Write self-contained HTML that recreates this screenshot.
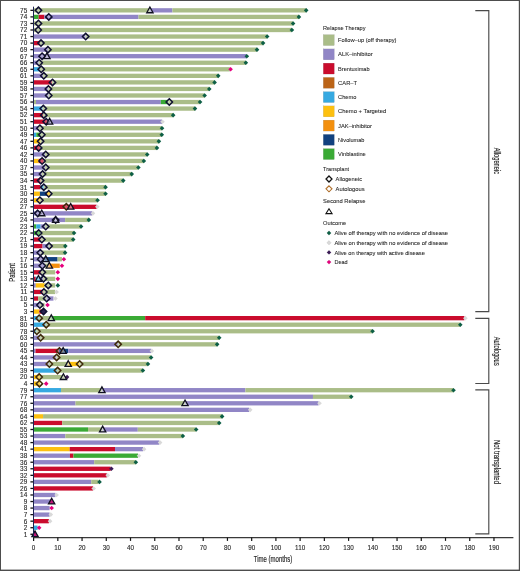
<!DOCTYPE html>
<html lang="en">
<head>
<meta charset="utf-8">
<title>Swimmer plot: relapse therapy by patient</title>
<style>
html,body{margin:0;padding:0;background:#fff;}
body{width:520px;height:571px;overflow:hidden;font-family:"Liberation Sans",sans-serif;}
svg{display:block;will-change:transform;}
</style>
</head>
<body>
<svg width="520" height="571" viewBox="0 0 520 571" font-family="Liberation Sans, sans-serif" shape-rendering="geometricPrecision">
<rect x="0" y="0" width="520" height="571" fill="#fff"/>
<g id="bars">
<rect x="33.6" y="8.2" width="116.3" height="4.3" fill="#aabd88"/>
<rect x="149.9" y="8.2" width="22.53" height="4.3" fill="#9186c6"/>
<rect x="172.44" y="8.2" width="133.75" height="4.3" fill="#aabd88"/>
<rect x="33.6" y="14.75" width="5.09" height="4.3" fill="#3aaa35"/>
<rect x="38.69" y="14.75" width="5.69" height="4.3" fill="#ca0c2d"/>
<rect x="44.38" y="14.75" width="94.13" height="4.3" fill="#9186c6"/>
<rect x="138.52" y="14.75" width="160.4" height="4.3" fill="#aabd88"/>
<rect x="33.6" y="21.3" width="259.5" height="4.3" fill="#aabd88"/>
<rect x="33.6" y="27.85" width="258.29" height="4.3" fill="#aabd88"/>
<rect x="33.6" y="34.4" width="52.09" height="4.3" fill="#9186c6"/>
<rect x="85.69" y="34.4" width="181.48" height="4.3" fill="#aabd88"/>
<rect x="33.6" y="40.95" width="6.3" height="4.3" fill="#ca0c2d"/>
<rect x="39.9" y="40.95" width="223.16" height="4.3" fill="#aabd88"/>
<rect x="33.6" y="47.49" width="14.54" height="4.3" fill="#9186c6"/>
<rect x="48.14" y="47.49" width="208.86" height="4.3" fill="#aabd88"/>
<rect x="33.6" y="54.04" width="213.22" height="4.3" fill="#9186c6"/>
<rect x="33.6" y="60.59" width="5.09" height="4.3" fill="#9186c6"/>
<rect x="38.69" y="60.59" width="207.17" height="4.3" fill="#aabd88"/>
<rect x="33.6" y="67.14" width="6.3" height="4.3" fill="#36a9e1"/>
<rect x="39.9" y="67.14" width="189.96" height="4.3" fill="#aabd88"/>
<rect x="33.6" y="73.69" width="9.45" height="4.3" fill="#9186c6"/>
<rect x="43.05" y="73.69" width="175.18" height="4.3" fill="#aabd88"/>
<rect x="33.6" y="80.24" width="18.29" height="4.3" fill="#ca0c2d"/>
<rect x="51.89" y="80.24" width="162.7" height="4.3" fill="#aabd88"/>
<rect x="33.6" y="86.79" width="14.54" height="4.3" fill="#9186c6"/>
<rect x="48.14" y="86.79" width="161.13" height="4.3" fill="#aabd88"/>
<rect x="33.6" y="93.34" width="15.02" height="4.3" fill="#9186c6"/>
<rect x="48.62" y="93.34" width="156.04" height="4.3" fill="#aabd88"/>
<rect x="33.6" y="99.89" width="2.42" height="4.3" fill="#aabd88"/>
<rect x="36.02" y="99.89" width="124.78" height="4.3" fill="#9186c6"/>
<rect x="160.81" y="99.89" width="7.51" height="4.3" fill="#3aaa35"/>
<rect x="168.32" y="99.89" width="31.74" height="4.3" fill="#aabd88"/>
<rect x="33.6" y="106.43" width="8.97" height="4.3" fill="#36a9e1"/>
<rect x="42.57" y="106.43" width="152.41" height="4.3" fill="#aabd88"/>
<rect x="33.6" y="112.98" width="9.45" height="4.3" fill="#ca0c2d"/>
<rect x="43.05" y="112.98" width="130.12" height="4.3" fill="#aabd88"/>
<rect x="33.6" y="119.53" width="13.33" height="4.3" fill="#ca0c2d"/>
<rect x="46.93" y="119.53" width="115.09" height="4.3" fill="#9186c6"/>
<rect x="33.6" y="126.08" width="5.09" height="4.3" fill="#9186c6"/>
<rect x="38.69" y="126.08" width="123.33" height="4.3" fill="#aabd88"/>
<rect x="33.6" y="132.63" width="2.67" height="4.3" fill="#36a9e1"/>
<rect x="36.27" y="132.63" width="4.36" height="4.3" fill="#3aaa35"/>
<rect x="40.63" y="132.63" width="121.15" height="4.3" fill="#aabd88"/>
<rect x="33.6" y="139.18" width="7.03" height="4.3" fill="#fdc010"/>
<rect x="40.63" y="139.18" width="118.24" height="4.3" fill="#aabd88"/>
<rect x="33.6" y="145.73" width="6.3" height="4.3" fill="#ca0c2d"/>
<rect x="39.9" y="145.73" width="117.03" height="4.3" fill="#aabd88"/>
<rect x="33.6" y="152.28" width="11.39" height="4.3" fill="#9186c6"/>
<rect x="44.99" y="152.28" width="102.25" height="4.3" fill="#aabd88"/>
<rect x="33.6" y="158.83" width="5.09" height="4.3" fill="#fdc010"/>
<rect x="38.69" y="158.83" width="5.09" height="4.3" fill="#ca0c2d"/>
<rect x="43.78" y="158.83" width="100.07" height="4.3" fill="#aabd88"/>
<rect x="33.6" y="165.38" width="11.39" height="4.3" fill="#9186c6"/>
<rect x="44.99" y="165.38" width="93.41" height="4.3" fill="#aabd88"/>
<rect x="33.6" y="171.93" width="8.24" height="4.3" fill="#9186c6"/>
<rect x="41.84" y="171.93" width="89.89" height="4.3" fill="#aabd88"/>
<rect x="33.6" y="178.47" width="7.03" height="4.3" fill="#ca0c2d"/>
<rect x="40.63" y="178.47" width="82.62" height="4.3" fill="#aabd88"/>
<rect x="33.6" y="185.02" width="7.03" height="4.3" fill="#ca0c2d"/>
<rect x="40.63" y="185.02" width="3.15" height="4.3" fill="#36a9e1"/>
<rect x="43.78" y="185.02" width="61.79" height="4.3" fill="#aabd88"/>
<rect x="33.6" y="191.57" width="6.3" height="4.3" fill="#fdc010"/>
<rect x="39.9" y="191.57" width="7.03" height="4.3" fill="#11417f"/>
<rect x="46.93" y="191.57" width="3.39" height="4.3" fill="#fdc010"/>
<rect x="50.32" y="191.57" width="55.24" height="4.3" fill="#aabd88"/>
<rect x="33.6" y="198.12" width="6.3" height="4.3" fill="#fdc010"/>
<rect x="39.9" y="198.12" width="57.67" height="4.3" fill="#aabd88"/>
<rect x="33.6" y="204.67" width="63" height="4.3" fill="#ca0c2d"/>
<rect x="33.6" y="211.22" width="58.64" height="4.3" fill="#9186c6"/>
<rect x="33.6" y="217.77" width="31.5" height="4.3" fill="#9186c6"/>
<rect x="65.1" y="217.77" width="23.75" height="4.3" fill="#aabd88"/>
<rect x="33.6" y="224.32" width="2.67" height="4.3" fill="#3aaa35"/>
<rect x="36.27" y="224.32" width="4.36" height="4.3" fill="#36a9e1"/>
<rect x="40.63" y="224.32" width="4.36" height="4.3" fill="#9186c6"/>
<rect x="44.99" y="224.32" width="36.1" height="4.3" fill="#aabd88"/>
<rect x="33.6" y="230.87" width="7.03" height="4.3" fill="#3aaa35"/>
<rect x="40.63" y="230.87" width="33.44" height="4.3" fill="#aabd88"/>
<rect x="33.6" y="237.41" width="7.03" height="4.3" fill="#ca0c2d"/>
<rect x="40.63" y="237.41" width="32.59" height="4.3" fill="#aabd88"/>
<rect x="33.6" y="243.96" width="8.97" height="4.3" fill="#ca0c2d"/>
<rect x="42.57" y="243.96" width="6.18" height="4.3" fill="#9186c6"/>
<rect x="48.74" y="243.96" width="16.6" height="4.3" fill="#aabd88"/>
<rect x="33.6" y="250.51" width="7.03" height="4.3" fill="#9186c6"/>
<rect x="40.63" y="250.51" width="24.47" height="4.3" fill="#aabd88"/>
<rect x="33.6" y="257.06" width="10.78" height="4.3" fill="#9186c6"/>
<rect x="44.38" y="257.06" width="13.21" height="4.3" fill="#11417f"/>
<rect x="57.59" y="257.06" width="4.36" height="4.3" fill="#aabd88"/>
<rect x="33.6" y="263.61" width="11.15" height="4.3" fill="#9186c6"/>
<rect x="44.75" y="263.61" width="3.39" height="4.3" fill="#aabd88"/>
<rect x="48.14" y="263.61" width="11.63" height="4.3" fill="#f3900f"/>
<rect x="33.6" y="270.16" width="7.27" height="4.3" fill="#ca0c2d"/>
<rect x="40.87" y="270.16" width="14.3" height="4.3" fill="#aabd88"/>
<rect x="33.6" y="276.71" width="2.18" height="4.3" fill="#ca0c2d"/>
<rect x="35.78" y="276.71" width="4.85" height="4.3" fill="#36a9e1"/>
<rect x="40.63" y="276.71" width="2.42" height="4.3" fill="#9186c6"/>
<rect x="43.05" y="276.71" width="12.12" height="4.3" fill="#aabd88"/>
<rect x="33.6" y="283.26" width="2.18" height="4.3" fill="#9186c6"/>
<rect x="35.78" y="283.26" width="8.84" height="4.3" fill="#fdc010"/>
<rect x="44.62" y="283.26" width="10.54" height="4.3" fill="#aabd88"/>
<rect x="33.6" y="289.81" width="9.21" height="4.3" fill="#ca0c2d"/>
<rect x="42.81" y="289.81" width="12.36" height="4.3" fill="#aabd88"/>
<rect x="33.6" y="296.36" width="4.51" height="4.3" fill="#ca0c2d"/>
<rect x="38.11" y="296.36" width="8.58" height="4.3" fill="#aabd88"/>
<rect x="46.68" y="296.36" width="6.78" height="4.3" fill="#9186c6"/>
<rect x="33.6" y="302.91" width="6.3" height="4.3" fill="#9186c6"/>
<rect x="39.9" y="302.91" width="4.6" height="4.3" fill="#aabd88"/>
<rect x="33.6" y="309.45" width="5.82" height="4.3" fill="#fdc010"/>
<rect x="39.42" y="309.45" width="2.67" height="4.3" fill="#ca0c2d"/>
<rect x="33.6" y="316" width="5.09" height="4.3" fill="#36a9e1"/>
<rect x="38.69" y="316" width="12.6" height="4.3" fill="#aabd88"/>
<rect x="51.29" y="316" width="93.89" height="4.3" fill="#3aaa35"/>
<rect x="145.18" y="316" width="319.23" height="4.3" fill="#ca0c2d"/>
<rect x="33.6" y="322.55" width="12.12" height="4.3" fill="#36a9e1"/>
<rect x="45.72" y="322.55" width="414.58" height="4.3" fill="#aabd88"/>
<rect x="33.6" y="329.1" width="2.67" height="4.3" fill="#36a9e1"/>
<rect x="36.27" y="329.1" width="336.31" height="4.3" fill="#aabd88"/>
<rect x="33.6" y="335.65" width="6.3" height="4.3" fill="#9186c6"/>
<rect x="39.9" y="335.65" width="179.3" height="4.3" fill="#aabd88"/>
<rect x="33.6" y="342.2" width="84.56" height="4.3" fill="#9186c6"/>
<rect x="118.16" y="342.2" width="98.98" height="4.3" fill="#aabd88"/>
<rect x="33.6" y="348.75" width="1.94" height="4.3" fill="#9186c6"/>
<rect x="35.54" y="348.75" width="23.26" height="4.3" fill="#ca0c2d"/>
<rect x="58.8" y="348.75" width="9.45" height="4.3" fill="#11417f"/>
<rect x="68.25" y="348.75" width="82.87" height="4.3" fill="#9186c6"/>
<rect x="33.6" y="355.3" width="22.78" height="4.3" fill="#9186c6"/>
<rect x="56.38" y="355.3" width="94.74" height="4.3" fill="#aabd88"/>
<rect x="33.6" y="361.85" width="15.14" height="4.3" fill="#9186c6"/>
<rect x="48.74" y="361.85" width="19.51" height="4.3" fill="#aabd88"/>
<rect x="68.25" y="361.85" width="11.15" height="4.3" fill="#fdc010"/>
<rect x="79.39" y="361.85" width="68.57" height="4.3" fill="#aabd88"/>
<rect x="33.6" y="368.4" width="23.26" height="4.3" fill="#36a9e1"/>
<rect x="56.86" y="368.4" width="86.02" height="4.3" fill="#aabd88"/>
<rect x="33.6" y="374.94" width="6.3" height="4.3" fill="#fdc010"/>
<rect x="39.9" y="374.94" width="24.71" height="4.3" fill="#aabd88"/>
<rect x="33.6" y="381.49" width="6.54" height="4.3" fill="#fdc010"/>
<rect x="33.6" y="388.04" width="27.38" height="4.3" fill="#36a9e1"/>
<rect x="60.98" y="388.04" width="40.95" height="4.3" fill="#aabd88"/>
<rect x="101.93" y="388.04" width="143.44" height="4.3" fill="#9186c6"/>
<rect x="245.37" y="388.04" width="208.14" height="4.3" fill="#aabd88"/>
<rect x="33.6" y="394.59" width="279.37" height="4.3" fill="#9186c6"/>
<rect x="312.97" y="394.59" width="38.28" height="4.3" fill="#aabd88"/>
<rect x="33.6" y="401.14" width="41.92" height="4.3" fill="#9186c6"/>
<rect x="75.52" y="401.14" width="109.52" height="4.3" fill="#aabd88"/>
<rect x="185.04" y="401.14" width="133.51" height="4.3" fill="#9186c6"/>
<rect x="33.6" y="407.69" width="215.65" height="4.3" fill="#9186c6"/>
<rect x="33.6" y="414.24" width="9.45" height="4.3" fill="#fdc010"/>
<rect x="43.05" y="414.24" width="179.06" height="4.3" fill="#aabd88"/>
<rect x="33.6" y="420.79" width="28.59" height="4.3" fill="#ca0c2d"/>
<rect x="62.19" y="420.79" width="157.01" height="4.3" fill="#aabd88"/>
<rect x="33.6" y="427.34" width="54.4" height="4.3" fill="#3aaa35"/>
<rect x="88" y="427.34" width="14.66" height="4.3" fill="#aabd88"/>
<rect x="102.66" y="427.34" width="35.13" height="4.3" fill="#9186c6"/>
<rect x="137.79" y="427.34" width="58.39" height="4.3" fill="#aabd88"/>
<rect x="33.6" y="433.89" width="31.74" height="4.3" fill="#9186c6"/>
<rect x="65.34" y="433.89" width="117.52" height="4.3" fill="#aabd88"/>
<rect x="33.6" y="440.43" width="125.75" height="4.3" fill="#9186c6"/>
<rect x="33.6" y="446.98" width="36.1" height="4.3" fill="#fdc010"/>
<rect x="69.7" y="446.98" width="45.31" height="4.3" fill="#ca0c2d"/>
<rect x="115.01" y="446.98" width="28.11" height="4.3" fill="#9186c6"/>
<rect x="33.6" y="453.53" width="36.34" height="4.3" fill="#9186c6"/>
<rect x="69.94" y="453.53" width="3.51" height="4.3" fill="#ca0c2d"/>
<rect x="73.46" y="453.53" width="64.57" height="4.3" fill="#3aaa35"/>
<rect x="33.6" y="460.08" width="60.58" height="4.3" fill="#9186c6"/>
<rect x="94.18" y="460.08" width="41.68" height="4.3" fill="#aabd88"/>
<rect x="33.6" y="466.63" width="77.05" height="4.3" fill="#ca0c2d"/>
<rect x="33.6" y="473.18" width="73.17" height="4.3" fill="#ca0c2d"/>
<rect x="33.6" y="479.73" width="57.67" height="4.3" fill="#9186c6"/>
<rect x="91.27" y="479.73" width="7.27" height="4.3" fill="#aabd88"/>
<rect x="33.6" y="486.28" width="59.36" height="4.3" fill="#ca0c2d"/>
<rect x="33.6" y="492.83" width="21.81" height="4.3" fill="#9186c6"/>
<rect x="33.6" y="499.38" width="16.96" height="4.3" fill="#9186c6"/>
<rect x="33.6" y="505.92" width="15.99" height="4.3" fill="#9186c6"/>
<rect x="33.6" y="512.47" width="15.99" height="4.3" fill="#9186c6"/>
<rect x="33.6" y="519.02" width="15.26" height="4.3" fill="#ca0c2d"/>
<rect x="33.6" y="525.57" width="4" height="4.3" fill="#36a9e1"/>
<rect x="33.6" y="532.12" width="0.73" height="4.3" fill="#9186c6"/>
</g>
<g id="outcomes">
<path d="M306.19 8.05L308.49 10.35L306.19 12.65L303.89 10.35Z" fill="#0d5f45"/>
<path d="M298.92 14.6L301.22 16.9L298.92 19.2L296.62 16.9Z" fill="#0d5f45"/>
<path d="M293.1 21.15L295.4 23.45L293.1 25.75L290.8 23.45Z" fill="#0d5f45"/>
<path d="M291.89 27.7L294.19 30L291.89 32.3L289.59 30Z" fill="#0d5f45"/>
<path d="M267.18 34.25L269.48 36.55L267.18 38.85L264.88 36.55Z" fill="#0d5f45"/>
<path d="M263.06 40.8L265.36 43.1L263.06 45.4L260.76 43.1Z" fill="#0d5f45"/>
<path d="M257 47.34L259.3 49.64L257 51.94L254.7 49.64Z" fill="#0d5f45"/>
<path d="M246.82 53.89L249.12 56.19L246.82 58.49L244.52 56.19Z" fill="#0d5f45"/>
<path d="M245.85 60.44L248.15 62.74L245.85 65.04L243.55 62.74Z" fill="#0d5f45"/>
<path d="M230.59 66.99L232.89 69.29L230.59 71.59L228.29 69.29Z" fill="#e5007d"/>
<path d="M218.23 73.54L220.53 75.84L218.23 78.14L215.93 75.84Z" fill="#0d5f45"/>
<path d="M214.6 80.09L216.9 82.39L214.6 84.69L212.3 82.39Z" fill="#0d5f45"/>
<path d="M209.27 86.64L211.57 88.94L209.27 91.24L206.97 88.94Z" fill="#0d5f45"/>
<path d="M204.66 93.19L206.96 95.49L204.66 97.79L202.36 95.49Z" fill="#0d5f45"/>
<path d="M200.06 99.74L202.36 102.04L200.06 104.34L197.76 102.04Z" fill="#0d5f45"/>
<path d="M194.97 106.28L197.27 108.58L194.97 110.88L192.67 108.58Z" fill="#0d5f45"/>
<path d="M173.16 112.83L175.46 115.13L173.16 117.43L170.86 115.13Z" fill="#0d5f45"/>
<path d="M162.5 119.38L164.8 121.68L162.5 123.98L160.2 121.68Z" fill="#d9d9d9"/>
<path d="M162.02 125.93L164.32 128.23L162.02 130.53L159.72 128.23Z" fill="#0d5f45"/>
<path d="M161.78 132.48L164.08 134.78L161.78 137.08L159.48 134.78Z" fill="#0d5f45"/>
<path d="M158.87 139.03L161.17 141.33L158.87 143.63L156.57 141.33Z" fill="#0d5f45"/>
<path d="M156.93 145.58L159.23 147.88L156.93 150.18L154.63 147.88Z" fill="#0d5f45"/>
<path d="M147.24 152.13L149.54 154.43L147.24 156.73L144.94 154.43Z" fill="#0d5f45"/>
<path d="M143.85 158.68L146.15 160.98L143.85 163.28L141.55 160.98Z" fill="#0d5f45"/>
<path d="M138.39 165.23L140.69 167.53L138.39 169.83L136.09 167.53Z" fill="#0d5f45"/>
<path d="M131.73 171.78L134.03 174.08L131.73 176.38L129.43 174.08Z" fill="#0d5f45"/>
<path d="M123.25 178.32L125.55 180.62L123.25 182.92L120.95 180.62Z" fill="#0d5f45"/>
<path d="M105.56 184.87L107.86 187.17L105.56 189.47L103.26 187.17Z" fill="#0d5f45"/>
<path d="M105.56 191.42L107.86 193.72L105.56 196.02L103.26 193.72Z" fill="#0d5f45"/>
<path d="M97.57 197.97L99.87 200.27L97.57 202.57L95.27 200.27Z" fill="#0d5f45"/>
<path d="M97.32 204.52L99.62 206.82L97.32 209.12L95.02 206.82Z" fill="#d9d9d9"/>
<path d="M92.96 211.07L95.26 213.37L92.96 215.67L90.66 213.37Z" fill="#d9d9d9"/>
<path d="M88.84 217.62L91.14 219.92L88.84 222.22L86.54 219.92Z" fill="#0d5f45"/>
<path d="M81.09 224.17L83.39 226.47L81.09 228.77L78.79 226.47Z" fill="#0d5f45"/>
<path d="M74.06 230.72L76.36 233.02L74.06 235.32L71.76 233.02Z" fill="#0d5f45"/>
<path d="M73.22 237.26L75.52 239.56L73.22 241.87L70.92 239.56Z" fill="#0d5f45"/>
<path d="M65.34 243.81L67.64 246.11L65.34 248.41L63.04 246.11Z" fill="#0d5f45"/>
<path d="M65.1 250.36L67.4 252.66L65.1 254.96L62.8 252.66Z" fill="#0d5f45"/>
<path d="M63.89 256.91L66.19 259.21L63.89 261.51L61.59 259.21Z" fill="#e5007d"/>
<path d="M61.95 263.46L64.25 265.76L61.95 268.06L59.65 265.76Z" fill="#e5007d"/>
<path d="M57.83 270.01L60.13 272.31L57.83 274.61L55.53 272.31Z" fill="#e5007d"/>
<path d="M57.83 276.56L60.13 278.86L57.83 281.16L55.53 278.86Z" fill="#e5007d"/>
<path d="M57.83 283.11L60.13 285.41L57.83 287.71L55.53 285.41Z" fill="#0d5f45"/>
<path d="M56.62 289.66L58.92 291.96L56.62 294.26L54.32 291.96Z" fill="#d9d9d9"/>
<path d="M55.41 296.21L57.71 298.51L55.41 300.81L53.11 298.51Z" fill="#d9d9d9"/>
<path d="M47.53 302.76L49.83 305.06L47.53 307.36L45.23 305.06Z" fill="#e5007d"/>
<path d="M465.38 315.85L467.68 318.15L465.38 320.45L463.08 318.15Z" fill="#d9d9d9"/>
<path d="M460.29 322.4L462.59 324.7L460.29 327L457.99 324.7Z" fill="#0d5f45"/>
<path d="M372.58 328.95L374.88 331.25L372.58 333.55L370.28 331.25Z" fill="#0d5f45"/>
<path d="M219.2 335.5L221.5 337.8L219.2 340.1L216.9 337.8Z" fill="#0d5f45"/>
<path d="M217.14 342.05L219.44 344.35L217.14 346.65L214.84 344.35Z" fill="#0d5f45"/>
<path d="M151.84 348.6L154.14 350.9L151.84 353.2L149.54 350.9Z" fill="#d9d9d9"/>
<path d="M151.12 355.15L153.42 357.45L151.12 359.75L148.82 357.45Z" fill="#0d5f45"/>
<path d="M147.97 361.7L150.27 364L147.97 366.3L145.67 364Z" fill="#0d5f45"/>
<path d="M142.88 368.25L145.18 370.55L142.88 372.85L140.58 370.55Z" fill="#0d5f45"/>
<path d="M67.04 374.79L69.34 377.09L67.04 379.39L64.74 377.09Z" fill="#3a1a55"/>
<path d="M46.2 381.34L48.5 383.64L46.2 385.94L43.9 383.64Z" fill="#e5007d"/>
<path d="M453.51 387.89L455.81 390.19L453.51 392.49L451.21 390.19Z" fill="#0d5f45"/>
<path d="M351.26 394.44L353.56 396.74L351.26 399.04L348.96 396.74Z" fill="#0d5f45"/>
<path d="M319.51 400.99L321.81 403.29L319.51 405.59L317.21 403.29Z" fill="#d9d9d9"/>
<path d="M250.22 407.54L252.52 409.84L250.22 412.14L247.92 409.84Z" fill="#d9d9d9"/>
<path d="M222.11 414.09L224.41 416.39L222.11 418.69L219.81 416.39Z" fill="#0d5f45"/>
<path d="M219.2 420.64L221.5 422.94L219.2 425.24L216.9 422.94Z" fill="#0d5f45"/>
<path d="M196.18 427.19L198.48 429.49L196.18 431.79L193.88 429.49Z" fill="#0d5f45"/>
<path d="M182.86 433.74L185.16 436.04L182.86 438.34L180.56 436.04Z" fill="#0d5f45"/>
<path d="M160.08 440.28L162.38 442.58L160.08 444.88L157.78 442.58Z" fill="#d9d9d9"/>
<path d="M144.09 446.83L146.39 449.13L144.09 451.43L141.79 449.13Z" fill="#d9d9d9"/>
<path d="M139 453.38L141.3 455.68L139 457.98L136.7 455.68Z" fill="#d9d9d9"/>
<path d="M135.85 459.93L138.15 462.23L135.85 464.53L133.55 462.23Z" fill="#0d5f45"/>
<path d="M111.38 466.48L113.68 468.78L111.38 471.08L109.08 468.78Z" fill="#3a1a55"/>
<path d="M107.74 473.03L110.04 475.33L107.74 477.63L105.44 475.33Z" fill="#d9d9d9"/>
<path d="M99.51 479.58L101.81 481.88L99.51 484.18L97.21 481.88Z" fill="#0d5f45"/>
<path d="M93.69 486.13L95.99 488.43L93.69 490.73L91.39 488.43Z" fill="#d9d9d9"/>
<path d="M56.62 492.68L58.92 494.98L56.62 497.28L54.32 494.98Z" fill="#d9d9d9"/>
<path d="M51.65 505.77L53.95 508.07L51.65 510.37L49.35 508.07Z" fill="#e5007d"/>
<path d="M50.8 512.32L53.1 514.62L50.8 516.92L48.5 514.62Z" fill="#d9d9d9"/>
<path d="M50.08 518.87L52.38 521.17L50.08 523.47L47.78 521.17Z" fill="#d9d9d9"/>
<path d="M39.17 525.42L41.47 527.72L39.17 530.02L36.87 527.72Z" fill="#e5007d"/>
</g>
<g id="marks" stroke-linejoin="miter">
<path d="M38.45 7.15L41.65 10.35L38.45 13.55L35.25 10.35Z" fill="rgba(255,255,255,0.28)" stroke="#101030" stroke-width="1.5"/>
<path d="M149.9 7.04L153.05 12.74L146.75 12.74Z" fill="rgba(255,255,255,0.42)" stroke="#101020" stroke-width="1.3"/>
<path d="M48.77 13.7L51.97 16.9L48.77 20.1L45.57 16.9Z" fill="rgba(255,255,255,0.28)" stroke="#101030" stroke-width="1.5"/>
<path d="M38.45 20.25L41.65 23.45L38.45 26.65L35.25 23.45Z" fill="rgba(255,255,255,0.28)" stroke="#101030" stroke-width="1.5"/>
<path d="M38.2 26.8L41.4 30L38.2 33.2L35 30Z" fill="rgba(255,255,255,0.28)" stroke="#101030" stroke-width="1.5"/>
<path d="M85.69 33.35L88.89 36.55L85.69 39.75L82.49 36.55Z" fill="rgba(255,255,255,0.28)" stroke="#101030" stroke-width="1.5"/>
<path d="M40.99 39.9L44.19 43.1L40.99 46.3L37.79 43.1Z" fill="rgba(255,255,255,0.28)" stroke="#101030" stroke-width="1.5"/>
<path d="M47.9 46.44L51.1 49.64L47.9 52.84L44.7 49.64Z" fill="rgba(255,255,255,0.28)" stroke="#101030" stroke-width="1.5"/>
<path d="M42.08 52.99L45.28 56.19L42.08 59.39L38.88 56.19Z" fill="rgba(255,255,255,0.28)" stroke="#101030" stroke-width="1.5"/>
<path d="M46.93 52.89L50.08 58.59L43.78 58.59Z" fill="rgba(255,255,255,0.42)" stroke="#101020" stroke-width="1.3"/>
<path d="M39.17 59.54L42.37 62.74L39.17 65.94L35.97 62.74Z" fill="rgba(255,255,255,0.28)" stroke="#101030" stroke-width="1.5"/>
<path d="M41.23 66.09L44.43 69.29L41.23 72.49L38.03 69.29Z" fill="rgba(255,255,255,0.28)" stroke="#101030" stroke-width="1.5"/>
<path d="M43.78 72.64L46.98 75.84L43.78 79.04L40.58 75.84Z" fill="rgba(255,255,255,0.28)" stroke="#101030" stroke-width="1.5"/>
<path d="M52.5 79.19L55.7 82.39L52.5 85.59L49.3 82.39Z" fill="rgba(255,255,255,0.28)" stroke="#101030" stroke-width="1.5"/>
<path d="M48.38 85.74L51.58 88.94L48.38 92.14L45.18 88.94Z" fill="rgba(255,255,255,0.28)" stroke="#101030" stroke-width="1.5"/>
<path d="M48.74 92.29L51.94 95.49L48.74 98.69L45.54 95.49Z" fill="rgba(255,255,255,0.28)" stroke="#101030" stroke-width="1.5"/>
<path d="M169.29 98.84L172.49 102.04L169.29 105.24L166.09 102.04Z" fill="rgba(255,255,255,0.28)" stroke="#101030" stroke-width="1.5"/>
<path d="M43.29 105.38L46.49 108.58L43.29 111.78L40.09 108.58Z" fill="rgba(255,255,255,0.28)" stroke="#101030" stroke-width="1.5"/>
<path d="M43.78 111.93L46.98 115.13L43.78 118.33L40.58 115.13Z" fill="rgba(255,255,255,0.28)" stroke="#101030" stroke-width="1.5"/>
<path d="M46.2 118.48L49.4 121.68L46.2 124.88L43 121.68Z" fill="rgba(255,255,255,0.28)" stroke="#101030" stroke-width="1.5"/>
<path d="M49.59 118.38L52.74 124.08L46.44 124.08Z" fill="rgba(255,255,255,0.42)" stroke="#101020" stroke-width="1.3"/>
<path d="M39.9 125.03L43.1 128.23L39.9 131.43L36.7 128.23Z" fill="rgba(255,255,255,0.28)" stroke="#101030" stroke-width="1.5"/>
<path d="M41.84 131.58L45.04 134.78L41.84 137.98L38.64 134.78Z" fill="rgba(255,255,255,0.28)" stroke="#101030" stroke-width="1.5"/>
<path d="M40.63 138.13L43.83 141.33L40.63 144.53L37.43 141.33Z" fill="rgba(255,255,255,0.28)" stroke="#101030" stroke-width="1.5"/>
<path d="M38.69 144.68L41.89 147.88L38.69 151.08L35.49 147.88Z" fill="rgba(255,255,255,0.28)" stroke="#101030" stroke-width="1.5"/>
<path d="M45.72 151.23L48.92 154.43L45.72 157.63L42.52 154.43Z" fill="rgba(255,255,255,0.28)" stroke="#101030" stroke-width="1.5"/>
<path d="M42.08 157.78L45.28 160.98L42.08 164.18L38.88 160.98Z" fill="rgba(255,255,255,0.28)" stroke="#101030" stroke-width="1.5"/>
<path d="M45.72 164.33L48.92 167.53L45.72 170.73L42.52 167.53Z" fill="rgba(255,255,255,0.28)" stroke="#101030" stroke-width="1.5"/>
<path d="M42.57 170.88L45.77 174.08L42.57 177.28L39.37 174.08Z" fill="rgba(255,255,255,0.28)" stroke="#101030" stroke-width="1.5"/>
<path d="M40.63 177.42L43.83 180.62L40.63 183.82L37.43 180.62Z" fill="rgba(255,255,255,0.28)" stroke="#101030" stroke-width="1.5"/>
<path d="M43.78 183.97L46.98 187.17L43.78 190.37L40.58 187.17Z" fill="rgba(255,255,255,0.28)" stroke="#101030" stroke-width="1.5"/>
<path d="M48.74 190.52L51.94 193.72L48.74 196.92L45.54 193.72Z" fill="rgba(255,255,255,0.28)" stroke="#101030" stroke-width="1.5"/>
<path d="M39.9 197.07L43.1 200.27L39.9 203.47L36.7 200.27Z" fill="rgba(255,255,255,0.28)" stroke="#101030" stroke-width="1.5"/>
<path d="M66.31 203.62L69.51 206.82L66.31 210.02L63.11 206.82Z" fill="rgba(255,255,255,0.28)" stroke="#3f2a0c" stroke-width="1.5"/>
<path d="M70.67 203.51L73.82 209.21L67.52 209.21Z" fill="rgba(255,255,255,0.42)" stroke="#101020" stroke-width="1.3"/>
<path d="M37.72 210.17L40.92 213.37L37.72 216.57L34.52 213.37Z" fill="rgba(255,255,255,0.28)" stroke="#101030" stroke-width="1.5"/>
<path d="M41.72 210.06L44.87 215.76L38.57 215.76Z" fill="rgba(255,255,255,0.42)" stroke="#101020" stroke-width="1.3"/>
<path d="M55.65 216.72L58.85 219.92L55.65 223.12L52.45 219.92Z" fill="rgba(255,255,255,0.28)" stroke="#101030" stroke-width="1.5"/>
<path d="M55.65 216.61L58.8 222.31L52.5 222.31Z" fill="rgba(255,255,255,0.42)" stroke="#101020" stroke-width="1.3"/>
<path d="M45.72 223.27L48.92 226.47L45.72 229.67L42.52 226.47Z" fill="rgba(255,255,255,0.28)" stroke="#101030" stroke-width="1.5"/>
<path d="M38.69 229.82L41.89 233.02L38.69 236.22L35.49 233.02Z" fill="rgba(255,255,255,0.28)" stroke="#101030" stroke-width="1.5"/>
<path d="M41.84 236.37L45.04 239.56L41.84 242.76L38.64 239.56Z" fill="rgba(255,255,255,0.28)" stroke="#101030" stroke-width="1.5"/>
<path d="M49.11 242.91L52.31 246.11L49.11 249.31L45.91 246.11Z" fill="rgba(255,255,255,0.28)" stroke="#101030" stroke-width="1.5"/>
<path d="M40.26 249.46L43.46 252.66L40.26 255.86L37.06 252.66Z" fill="rgba(255,255,255,0.28)" stroke="#101030" stroke-width="1.5"/>
<path d="M40.63 256.01L43.83 259.21L40.63 262.41L37.43 259.21Z" fill="rgba(255,255,255,0.28)" stroke="#101030" stroke-width="1.5"/>
<path d="M45.72 255.91L48.87 261.61L42.57 261.61Z" fill="rgba(255,255,255,0.42)" stroke="#101020" stroke-width="1.3"/>
<path d="M42.32 262.56L45.52 265.76L42.32 268.96L39.12 265.76Z" fill="rgba(255,255,255,0.28)" stroke="#101030" stroke-width="1.5"/>
<path d="M49.35 262.46L52.5 268.16L46.2 268.16Z" fill="rgba(255,255,255,0.42)" stroke="#101020" stroke-width="1.3"/>
<path d="M42.32 269.11L45.52 272.31L42.32 275.51L39.12 272.31Z" fill="rgba(255,255,255,0.28)" stroke="#101030" stroke-width="1.5"/>
<path d="M38.45 275.55L41.6 281.25L35.3 281.25Z" fill="rgba(255,255,255,0.42)" stroke="#101020" stroke-width="1.3"/>
<path d="M43.53 275.66L46.73 278.86L43.53 282.06L40.33 278.86Z" fill="rgba(255,255,255,0.28)" stroke="#101030" stroke-width="1.5"/>
<path d="M48.28 282.21L51.48 285.41L48.28 288.61L45.08 285.41Z" fill="rgba(255,255,255,0.28)" stroke="#101030" stroke-width="1.5"/>
<path d="M43.9 288.76L47.1 291.96L43.9 295.16L40.7 291.96Z" fill="rgba(255,255,255,0.28)" stroke="#101030" stroke-width="1.5"/>
<path d="M46.68 295.31L49.88 298.51L46.68 301.71L43.48 298.51Z" fill="rgba(255,255,255,0.28)" stroke="#101030" stroke-width="1.5"/>
<path d="M39.9 301.86L43.1 305.06L39.9 308.26L36.7 305.06Z" fill="rgba(255,255,255,0.28)" stroke="#101030" stroke-width="1.5"/>
<path d="M43.53 308.4L46.73 311.6L43.53 314.8L40.33 311.6Z" fill="#2c2452" stroke="#101030" stroke-width="1.5"/>
<path d="M39.17 314.95L42.37 318.15L39.17 321.35L35.97 318.15Z" fill="rgba(255,255,255,0.28)" stroke="#3f2a0c" stroke-width="1.5"/>
<path d="M51.29 314.85L54.44 320.55L48.14 320.55Z" fill="rgba(255,255,255,0.42)" stroke="#101020" stroke-width="1.3"/>
<path d="M46.2 321.5L49.4 324.7L46.2 327.9L43 324.7Z" fill="rgba(255,255,255,0.28)" stroke="#3f2a0c" stroke-width="1.5"/>
<path d="M36.87 328.05L40.07 331.25L36.87 334.45L33.67 331.25Z" fill="rgba(255,255,255,0.28)" stroke="#3f2a0c" stroke-width="1.5"/>
<path d="M40.63 334.6L43.83 337.8L40.63 341L37.43 337.8Z" fill="rgba(255,255,255,0.28)" stroke="#3f2a0c" stroke-width="1.5"/>
<path d="M118.16 341.15L121.36 344.35L118.16 347.55L114.96 344.35Z" fill="rgba(255,255,255,0.28)" stroke="#3f2a0c" stroke-width="1.5"/>
<path d="M59.4 347.7L62.6 350.9L59.4 354.1L56.2 350.9Z" fill="rgba(255,255,255,0.28)" stroke="#3f2a0c" stroke-width="1.5"/>
<path d="M63.16 347.59L66.31 353.29L60.01 353.29Z" fill="rgba(255,255,255,0.42)" stroke="#101020" stroke-width="1.3"/>
<path d="M56.62 354.25L59.82 357.45L56.62 360.65L53.42 357.45Z" fill="rgba(255,255,255,0.28)" stroke="#3f2a0c" stroke-width="1.5"/>
<path d="M49.35 360.8L52.55 364L49.35 367.2L46.15 364Z" fill="rgba(255,255,255,0.28)" stroke="#3f2a0c" stroke-width="1.5"/>
<path d="M68.25 360.69L71.4 366.39L65.1 366.39Z" fill="rgba(255,255,255,0.42)" stroke="#101020" stroke-width="1.3"/>
<path d="M79.64 360.8L82.84 364L79.64 367.2L76.44 364Z" fill="rgba(255,255,255,0.28)" stroke="#3f2a0c" stroke-width="1.5"/>
<path d="M57.59 367.35L60.79 370.55L57.59 373.75L54.39 370.55Z" fill="rgba(255,255,255,0.28)" stroke="#3f2a0c" stroke-width="1.5"/>
<path d="M39.17 373.89L42.37 377.09L39.17 380.29L35.97 377.09Z" fill="rgba(255,255,255,0.28)" stroke="#3f2a0c" stroke-width="1.5"/>
<path d="M63.4 373.79L66.55 379.49L60.25 379.49Z" fill="rgba(255,255,255,0.42)" stroke="#101020" stroke-width="1.3"/>
<path d="M39.42 380.44L42.62 383.64L39.42 386.84L36.22 383.64Z" fill="rgba(255,255,255,0.28)" stroke="#3f2a0c" stroke-width="1.5"/>
<path d="M101.93 386.89L105.08 392.59L98.78 392.59Z" fill="rgba(255,255,255,0.42)" stroke="#101020" stroke-width="1.3"/>
<path d="M185.04 399.98L188.19 405.68L181.89 405.68Z" fill="rgba(255,255,255,0.42)" stroke="#101020" stroke-width="1.3"/>
<path d="M102.66 426.18L105.81 431.88L99.51 431.88Z" fill="rgba(255,255,255,0.42)" stroke="#101020" stroke-width="1.3"/>
<path d="M51.65 498.22L54.8 503.92L48.5 503.92Z" fill="#c2187a" stroke="#101020" stroke-width="1.3"/>
<path d="M35.05 530.96L38.2 536.66L31.9 536.66Z" fill="#c2187a" stroke="#101020" stroke-width="1.3"/>
</g>
<g id="axes" stroke="#3a3a3a" stroke-width="1" fill="none">
<path d="M33.5 6.8V538"/>
<path d="M33 537.7H513.4" stroke-width="1.2"/>
<path d="M30.4 10.35H33.5" stroke="#151515" stroke-width="1.3"/>
<path d="M30.4 16.9H33.5" stroke="#151515" stroke-width="1.3"/>
<path d="M30.4 23.45H33.5" stroke="#151515" stroke-width="1.3"/>
<path d="M30.4 30H33.5" stroke="#151515" stroke-width="1.3"/>
<path d="M30.4 36.55H33.5" stroke="#151515" stroke-width="1.3"/>
<path d="M30.4 43.1H33.5" stroke="#151515" stroke-width="1.3"/>
<path d="M30.4 49.64H33.5" stroke="#151515" stroke-width="1.3"/>
<path d="M30.4 56.19H33.5" stroke="#151515" stroke-width="1.3"/>
<path d="M30.4 62.74H33.5" stroke="#151515" stroke-width="1.3"/>
<path d="M30.4 69.29H33.5" stroke="#151515" stroke-width="1.3"/>
<path d="M30.4 75.84H33.5" stroke="#151515" stroke-width="1.3"/>
<path d="M30.4 82.39H33.5" stroke="#151515" stroke-width="1.3"/>
<path d="M30.4 88.94H33.5" stroke="#151515" stroke-width="1.3"/>
<path d="M30.4 95.49H33.5" stroke="#151515" stroke-width="1.3"/>
<path d="M30.4 102.04H33.5" stroke="#151515" stroke-width="1.3"/>
<path d="M30.4 108.58H33.5" stroke="#151515" stroke-width="1.3"/>
<path d="M30.4 115.13H33.5" stroke="#151515" stroke-width="1.3"/>
<path d="M30.4 121.68H33.5" stroke="#151515" stroke-width="1.3"/>
<path d="M30.4 128.23H33.5" stroke="#151515" stroke-width="1.3"/>
<path d="M30.4 134.78H33.5" stroke="#151515" stroke-width="1.3"/>
<path d="M30.4 141.33H33.5" stroke="#151515" stroke-width="1.3"/>
<path d="M30.4 147.88H33.5" stroke="#151515" stroke-width="1.3"/>
<path d="M30.4 154.43H33.5" stroke="#151515" stroke-width="1.3"/>
<path d="M30.4 160.98H33.5" stroke="#151515" stroke-width="1.3"/>
<path d="M30.4 167.53H33.5" stroke="#151515" stroke-width="1.3"/>
<path d="M30.4 174.08H33.5" stroke="#151515" stroke-width="1.3"/>
<path d="M30.4 180.62H33.5" stroke="#151515" stroke-width="1.3"/>
<path d="M30.4 187.17H33.5" stroke="#151515" stroke-width="1.3"/>
<path d="M30.4 193.72H33.5" stroke="#151515" stroke-width="1.3"/>
<path d="M30.4 200.27H33.5" stroke="#151515" stroke-width="1.3"/>
<path d="M30.4 206.82H33.5" stroke="#151515" stroke-width="1.3"/>
<path d="M30.4 213.37H33.5" stroke="#151515" stroke-width="1.3"/>
<path d="M30.4 219.92H33.5" stroke="#151515" stroke-width="1.3"/>
<path d="M30.4 226.47H33.5" stroke="#151515" stroke-width="1.3"/>
<path d="M30.4 233.02H33.5" stroke="#151515" stroke-width="1.3"/>
<path d="M30.4 239.56H33.5" stroke="#151515" stroke-width="1.3"/>
<path d="M30.4 246.11H33.5" stroke="#151515" stroke-width="1.3"/>
<path d="M30.4 252.66H33.5" stroke="#151515" stroke-width="1.3"/>
<path d="M30.4 259.21H33.5" stroke="#151515" stroke-width="1.3"/>
<path d="M30.4 265.76H33.5" stroke="#151515" stroke-width="1.3"/>
<path d="M30.4 272.31H33.5" stroke="#151515" stroke-width="1.3"/>
<path d="M30.4 278.86H33.5" stroke="#151515" stroke-width="1.3"/>
<path d="M30.4 285.41H33.5" stroke="#151515" stroke-width="1.3"/>
<path d="M30.4 291.96H33.5" stroke="#151515" stroke-width="1.3"/>
<path d="M30.4 298.51H33.5" stroke="#151515" stroke-width="1.3"/>
<path d="M30.4 305.06H33.5" stroke="#151515" stroke-width="1.3"/>
<path d="M30.4 311.6H33.5" stroke="#151515" stroke-width="1.3"/>
<path d="M30.4 318.15H33.5" stroke="#151515" stroke-width="1.3"/>
<path d="M30.4 324.7H33.5" stroke="#151515" stroke-width="1.3"/>
<path d="M30.4 331.25H33.5" stroke="#151515" stroke-width="1.3"/>
<path d="M30.4 337.8H33.5" stroke="#151515" stroke-width="1.3"/>
<path d="M30.4 344.35H33.5" stroke="#151515" stroke-width="1.3"/>
<path d="M30.4 350.9H33.5" stroke="#151515" stroke-width="1.3"/>
<path d="M30.4 357.45H33.5" stroke="#151515" stroke-width="1.3"/>
<path d="M30.4 364H33.5" stroke="#151515" stroke-width="1.3"/>
<path d="M30.4 370.55H33.5" stroke="#151515" stroke-width="1.3"/>
<path d="M30.4 377.09H33.5" stroke="#151515" stroke-width="1.3"/>
<path d="M30.4 383.64H33.5" stroke="#151515" stroke-width="1.3"/>
<path d="M30.4 390.19H33.5" stroke="#151515" stroke-width="1.3"/>
<path d="M30.4 396.74H33.5" stroke="#151515" stroke-width="1.3"/>
<path d="M30.4 403.29H33.5" stroke="#151515" stroke-width="1.3"/>
<path d="M30.4 409.84H33.5" stroke="#151515" stroke-width="1.3"/>
<path d="M30.4 416.39H33.5" stroke="#151515" stroke-width="1.3"/>
<path d="M30.4 422.94H33.5" stroke="#151515" stroke-width="1.3"/>
<path d="M30.4 429.49H33.5" stroke="#151515" stroke-width="1.3"/>
<path d="M30.4 436.04H33.5" stroke="#151515" stroke-width="1.3"/>
<path d="M30.4 442.58H33.5" stroke="#151515" stroke-width="1.3"/>
<path d="M30.4 449.13H33.5" stroke="#151515" stroke-width="1.3"/>
<path d="M30.4 455.68H33.5" stroke="#151515" stroke-width="1.3"/>
<path d="M30.4 462.23H33.5" stroke="#151515" stroke-width="1.3"/>
<path d="M30.4 468.78H33.5" stroke="#151515" stroke-width="1.3"/>
<path d="M30.4 475.33H33.5" stroke="#151515" stroke-width="1.3"/>
<path d="M30.4 481.88H33.5" stroke="#151515" stroke-width="1.3"/>
<path d="M30.4 488.43H33.5" stroke="#151515" stroke-width="1.3"/>
<path d="M30.4 494.98H33.5" stroke="#151515" stroke-width="1.3"/>
<path d="M30.4 501.53H33.5" stroke="#151515" stroke-width="1.3"/>
<path d="M30.4 508.07H33.5" stroke="#151515" stroke-width="1.3"/>
<path d="M30.4 514.62H33.5" stroke="#151515" stroke-width="1.3"/>
<path d="M30.4 521.17H33.5" stroke="#151515" stroke-width="1.3"/>
<path d="M30.4 527.72H33.5" stroke="#151515" stroke-width="1.3"/>
<path d="M30.4 534.27H33.5" stroke="#151515" stroke-width="1.3"/>
<path d="M33.6 537.6V540.9" stroke="#151515" stroke-width="1.2"/>
<path d="M57.83 537.6V540.9" stroke="#151515" stroke-width="1.2"/>
<path d="M82.06 537.6V540.9" stroke="#151515" stroke-width="1.2"/>
<path d="M106.29 537.6V540.9" stroke="#151515" stroke-width="1.2"/>
<path d="M130.52 537.6V540.9" stroke="#151515" stroke-width="1.2"/>
<path d="M154.75 537.6V540.9" stroke="#151515" stroke-width="1.2"/>
<path d="M178.98 537.6V540.9" stroke="#151515" stroke-width="1.2"/>
<path d="M203.21 537.6V540.9" stroke="#151515" stroke-width="1.2"/>
<path d="M227.44 537.6V540.9" stroke="#151515" stroke-width="1.2"/>
<path d="M251.67 537.6V540.9" stroke="#151515" stroke-width="1.2"/>
<path d="M275.9 537.6V540.9" stroke="#151515" stroke-width="1.2"/>
<path d="M300.13 537.6V540.9" stroke="#151515" stroke-width="1.2"/>
<path d="M324.36 537.6V540.9" stroke="#151515" stroke-width="1.2"/>
<path d="M348.59 537.6V540.9" stroke="#151515" stroke-width="1.2"/>
<path d="M372.82 537.6V540.9" stroke="#151515" stroke-width="1.2"/>
<path d="M397.05 537.6V540.9" stroke="#151515" stroke-width="1.2"/>
<path d="M421.28 537.6V540.9" stroke="#151515" stroke-width="1.2"/>
<path d="M445.51 537.6V540.9" stroke="#151515" stroke-width="1.2"/>
<path d="M469.74 537.6V540.9" stroke="#151515" stroke-width="1.2"/>
<path d="M493.97 537.6V540.9" stroke="#151515" stroke-width="1.2"/>
</g>
<path d="M33.5 6.8V537" stroke="#1b2150" stroke-width="1" fill="none"/>
<g id="ylabels" font-size="6.4" fill="#2a2a2a" stroke="#2a2a2a" stroke-width="0.12" text-anchor="end">
<text x="27.2" y="12.7">75</text>
<text x="27.2" y="19.25">74</text>
<text x="27.2" y="25.8">73</text>
<text x="27.2" y="32.35">72</text>
<text x="27.2" y="38.9">71</text>
<text x="27.2" y="45.45">70</text>
<text x="27.2" y="51.99">69</text>
<text x="27.2" y="58.54">67</text>
<text x="27.2" y="65.09">66</text>
<text x="27.2" y="71.64">65</text>
<text x="27.2" y="78.19">61</text>
<text x="27.2" y="84.74">59</text>
<text x="27.2" y="91.29">58</text>
<text x="27.2" y="97.84">57</text>
<text x="27.2" y="104.39">56</text>
<text x="27.2" y="110.93">54</text>
<text x="27.2" y="117.48">52</text>
<text x="27.2" y="124.03">51</text>
<text x="27.2" y="130.58">50</text>
<text x="27.2" y="137.13">49</text>
<text x="27.2" y="143.68">47</text>
<text x="27.2" y="150.23">46</text>
<text x="27.2" y="156.78">42</text>
<text x="27.2" y="163.33">40</text>
<text x="27.2" y="169.88">37</text>
<text x="27.2" y="176.43">35</text>
<text x="27.2" y="182.97">34</text>
<text x="27.2" y="189.52">31</text>
<text x="27.2" y="196.07">30</text>
<text x="27.2" y="202.62">28</text>
<text x="27.2" y="209.17">27</text>
<text x="27.2" y="215.72">25</text>
<text x="27.2" y="222.27">24</text>
<text x="27.2" y="228.82">23</text>
<text x="27.2" y="235.37">22</text>
<text x="27.2" y="241.91">21</text>
<text x="27.2" y="248.46">19</text>
<text x="27.2" y="255.01">18</text>
<text x="27.2" y="261.56">17</text>
<text x="27.2" y="268.11">16</text>
<text x="27.2" y="274.66">15</text>
<text x="27.2" y="281.21">13</text>
<text x="27.2" y="287.76">12</text>
<text x="27.2" y="294.31">11</text>
<text x="27.2" y="300.86">10</text>
<text x="27.2" y="307.41">5</text>
<text x="27.2" y="313.95">3</text>
<text x="27.2" y="320.5">81</text>
<text x="27.2" y="327.05">80</text>
<text x="27.2" y="333.6">78</text>
<text x="27.2" y="340.15">63</text>
<text x="27.2" y="346.7">60</text>
<text x="27.2" y="353.25">45</text>
<text x="27.2" y="359.8">44</text>
<text x="27.2" y="366.35">43</text>
<text x="27.2" y="372.9">39</text>
<text x="27.2" y="379.44">20</text>
<text x="27.2" y="385.99">4</text>
<text x="27.2" y="392.54">79</text>
<text x="27.2" y="399.09">77</text>
<text x="27.2" y="405.64">76</text>
<text x="27.2" y="412.19">68</text>
<text x="27.2" y="418.74">64</text>
<text x="27.2" y="425.29">62</text>
<text x="27.2" y="431.84">55</text>
<text x="27.2" y="438.39">53</text>
<text x="27.2" y="444.93">48</text>
<text x="27.2" y="451.48">41</text>
<text x="27.2" y="458.03">38</text>
<text x="27.2" y="464.58">36</text>
<text x="27.2" y="471.13">33</text>
<text x="27.2" y="477.68">32</text>
<text x="27.2" y="484.23">29</text>
<text x="27.2" y="490.78">26</text>
<text x="27.2" y="497.33">14</text>
<text x="27.2" y="503.88">9</text>
<text x="27.2" y="510.42">8</text>
<text x="27.2" y="516.97">7</text>
<text x="27.2" y="523.52">6</text>
<text x="27.2" y="530.07">2</text>
<text x="27.2" y="536.62">1</text>
</g>
<g id="xlabels" font-size="6.3" fill="#2a2a2a" stroke="#2a2a2a" stroke-width="0.12" text-anchor="middle">
<text x="33.6" y="550.1">0</text>
<text x="57.83" y="550.1">10</text>
<text x="82.06" y="550.1">20</text>
<text x="106.29" y="550.1">30</text>
<text x="130.52" y="550.1">40</text>
<text x="154.75" y="550.1">50</text>
<text x="178.98" y="550.1">60</text>
<text x="203.21" y="550.1">70</text>
<text x="227.44" y="550.1">80</text>
<text x="251.67" y="550.1">90</text>
<text x="275.9" y="550.1">100</text>
<text x="300.13" y="550.1">110</text>
<text x="324.36" y="550.1">120</text>
<text x="348.59" y="550.1">130</text>
<text x="372.82" y="550.1">140</text>
<text x="397.05" y="550.1">150</text>
<text x="421.28" y="550.1">160</text>
<text x="445.51" y="550.1">170</text>
<text x="469.74" y="550.1">180</text>
<text x="493.97" y="550.1">190</text>
</g>
<text x="273" y="562" font-size="8.2" fill="#222" stroke="#222" stroke-width="0.15" text-anchor="middle" textLength="38.5" lengthAdjust="spacingAndGlyphs">Time (months)</text>
<text transform="translate(14.6 272.4) rotate(-90)" font-size="8.2" fill="#222" stroke="#222" stroke-width="0.15" text-anchor="middle" textLength="18.6" lengthAdjust="spacingAndGlyphs">Patient</text>
<g id="brackets" stroke="#4a4a4a" stroke-width="1.15" fill="none">
<path d="M475.3 10.6H488.8V311.6H475.3"/>
<path d="M475.3 318.4H488.8V383.5H475.3"/>
<path d="M475.3 389.9H488.8V533.8H475.3"/>
</g>
<g id="grouplabels" font-size="8.2" fill="#222" stroke="#222" stroke-width="0.15" text-anchor="middle">
<text transform="translate(494.1 160.9) rotate(90)" textLength="26.5" lengthAdjust="spacingAndGlyphs">Allogeneic</text>
<text transform="translate(494.1 351.2) rotate(90)" textLength="29" lengthAdjust="spacingAndGlyphs">Autologous</text>
<text transform="translate(494.1 462) rotate(90)" textLength="44" lengthAdjust="spacingAndGlyphs">Not transplanted</text>
</g>
<g id="legend" font-size="6.2" fill="#262626" stroke="#262626" stroke-width="0.08">
<text x="323.1" y="29.6" textLength="42.4" lengthAdjust="spacingAndGlyphs">Relapse Therapy</text>
<rect x="323.3" y="34.65" width="11" height="10.9" fill="#aabd88"/>
<text x="338.1" y="42.2" textLength="58.3" lengthAdjust="spacingAndGlyphs">Follow–up (off therapy)</text>
<rect x="323.3" y="48.9" width="11" height="10.9" fill="#9186c6"/>
<text x="338.1" y="56.45" textLength="34.6" lengthAdjust="spacingAndGlyphs">ALK–inhibitor</text>
<rect x="323.3" y="63.15" width="11" height="10.9" fill="#ca0c2d"/>
<text x="338.1" y="70.7" textLength="31.5" lengthAdjust="spacingAndGlyphs">Brentuximab</text>
<rect x="323.3" y="77.4" width="11" height="10.9" fill="#bb6418"/>
<text x="338.1" y="84.95" textLength="19" lengthAdjust="spacingAndGlyphs">CAR–T</text>
<rect x="323.3" y="91.65" width="11" height="10.9" fill="#36a9e1"/>
<text x="338.1" y="99.2" textLength="18.3" lengthAdjust="spacingAndGlyphs">Chemo</text>
<rect x="323.3" y="105.9" width="11" height="10.9" fill="#fdc010"/>
<text x="338.1" y="113.45" textLength="48.1" lengthAdjust="spacingAndGlyphs">Chemo + Targeted</text>
<rect x="323.3" y="120.15" width="11" height="10.9" fill="#f3900f"/>
<text x="338.1" y="127.7" textLength="33.9" lengthAdjust="spacingAndGlyphs">JAK–inhibitor</text>
<rect x="323.3" y="134.4" width="11" height="10.9" fill="#11417f"/>
<text x="338.1" y="141.95" textLength="26.3" lengthAdjust="spacingAndGlyphs">Nivolumab</text>
<rect x="323.3" y="148.65" width="11" height="10.9" fill="#3aaa35"/>
<text x="338.1" y="156.2" textLength="27.7" lengthAdjust="spacingAndGlyphs">Vinblastine</text>
<text x="323.1" y="171.3" textLength="25.9" lengthAdjust="spacingAndGlyphs">Transplant</text>
<path d="M329 176L332 179L329 182L326 179Z" fill="#fff" stroke="#111" stroke-width="1.25"/>
<text x="335.6" y="180.9" textLength="26.5" lengthAdjust="spacingAndGlyphs">Allogeneic</text>
<path d="M329 185.8L332 188.8L329 191.8L326 188.8Z" fill="#fff" stroke="#b0702c" stroke-width="1.1"/>
<text x="335.6" y="190.8" textLength="29" lengthAdjust="spacingAndGlyphs">Autologous</text>
<text x="323.1" y="203.2" textLength="42.3" lengthAdjust="spacingAndGlyphs">Second Relapse</text>
<path d="M329 208.7L332.1 213.6H325.9Z" fill="#fff" stroke="#111" stroke-width="1.05"/>
<text x="323.1" y="225.2" textLength="23" lengthAdjust="spacingAndGlyphs">Outcome</text>
<path d="M329 230.8L331.2 233L329 235.2L326.8 233Z" fill="#0d5f45"/>
<text x="334.4" y="235.1" textLength="113.6" lengthAdjust="spacingAndGlyphs">Alive off therapy with no evidence of disease</text>
<path d="M329 240.5L331.2 242.7L329 244.9L326.8 242.7Z" fill="#d9d9d9"/>
<text x="334.4" y="244.8" textLength="113.6" lengthAdjust="spacingAndGlyphs">Alive on therapy with no evidence of disease</text>
<path d="M329 250.2L331.2 252.4L329 254.6L326.8 252.4Z" fill="#3a1a55"/>
<text x="334.4" y="254.5" textLength="90.5" lengthAdjust="spacingAndGlyphs">Alive on therapy with active disease</text>
<path d="M329 259.9L331.2 262.1L329 264.3L326.8 262.1Z" fill="#e5007d"/>
<text x="334.4" y="264.2" textLength="13.2" lengthAdjust="spacingAndGlyphs">Dead</text>
</g>
<g id="frame" fill="#4d4d4d">
<rect x="0" y="0" width="520" height="1"/>
<rect x="0" y="0" width="1" height="571"/>
<rect x="518.8" y="0" width="1.2" height="571"/>
<rect x="0" y="569.6" width="520" height="1.4"/>
</g>
</svg>
</body>
</html>
